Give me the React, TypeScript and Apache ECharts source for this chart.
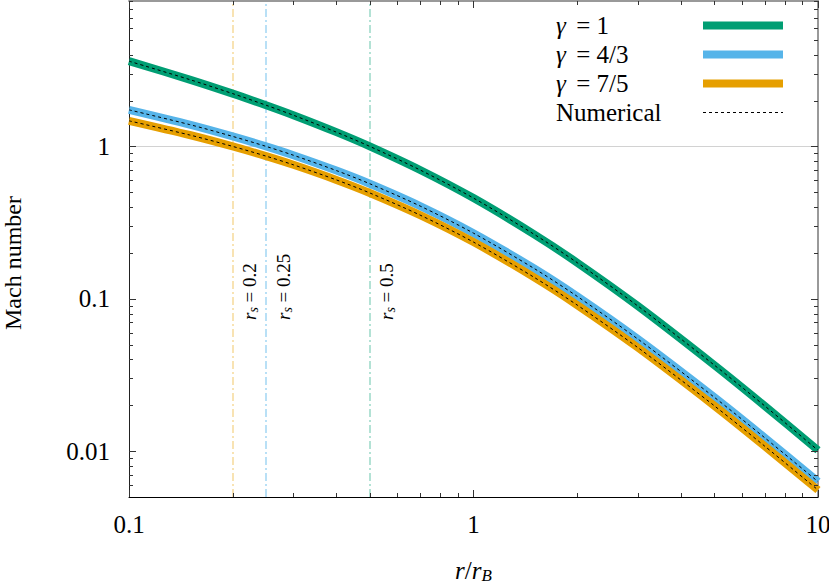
import React, { useEffect, useRef } from "react";
import * as echarts from "echarts";

// Radii (in units of r_B) at which the Mach number is read
const radii = [0.1, 0.15, 0.2, 0.25, 0.3, 0.4, 0.5, 0.7, 1, 1.5, 2, 3, 5, 7, 10];
// Mach number for each adiabatic index
const machGamma1 = [3.625, 2.745, 2.22, 1.863, 1.602, 1.24, 1.0, 0.7, 0.4578, 0.2648, 0.1725, 0.0896, 0.0367, 0.01983, 0.01013];
const machGamma43 = [1.737, 1.39, 1.163, 1.0, 0.875, 0.694, 0.5687, 0.406, 0.2695, 0.158, 0.1037, 0.0544, 0.02257, 0.01226, 0.00631];
const machGamma75 = [1.472, 1.188, 1.0, 0.863, 0.757, 0.6026, 0.4948, 0.354, 0.2355, 0.1382, 0.0909, 0.0478, 0.01985, 0.01079, 0.00556];

const seriesNames = ["γ = 1", "γ = 4/3", "γ = 7/5"];
const numericalName = "Numerical";
const sonicRadii = [0.2, 0.25, 0.5];
const sonicLabels = ["0.2", "0.25", "0.5"];

const xTickValues = [0.1, 1, 10];
const xTickLabels = ["0.1", "1", "10"];
const yTickValues = [0.01, 0.1, 1];
const yTickLabels = ["0.01", "0.1", "1"];
const xMinorTicks = [0.2, 0.3, 0.4, 0.5, 0.6, 0.7, 0.8, 0.9, 2, 3, 4, 5, 6, 7, 8, 9];
const yMinorTicks = [0.006, 0.007, 0.008, 0.009, 0.02, 0.03, 0.04, 0.05, 0.06, 0.07, 0.08, 0.09, 0.2, 0.3, 0.4, 0.5, 0.6, 0.7, 0.8, 0.9, 2, 3, 4, 5, 6, 7, 8, 9];

const COLORS = ["#009E73", "#56B4E9", "#E69F00"];
const PALE = ["rgba(0,158,115,0.4)", "rgba(86,180,233,0.55)", "rgba(230,159,0,0.4)"];
const FONT = "Liberation Serif";

function labelFor(values: number[], labels: string[], v: number) {
  for (let i = 0; i < values.length; i++) {
    if (Math.abs(Math.log10(v) - Math.log10(values[i])) < 1e-6) return labels[i];
  }
  return "";
}

export default function App() {
  const ref = useRef<HTMLDivElement>(null);
  useEffect(() => {
    if (!ref.current) return;
    const chart = echarts.init(ref.current, undefined, { renderer: "svg" });

    const curveSets = [machGamma1, machGamma43, machGamma75];
    const sonicIdx = [2, 1, 0];

    const colored: any[] = curveSets.map((vals, k) => {
      const si = sonicIdx[k];
      const mlData: any[] = [
        {
          xAxis: sonicRadii[si],
          lineStyle: { color: PALE[k], width: 1.5, type: [8, 3, 2, 3] },
          label: {
            show: true,
            position: "insideStartBottom",
            distance: [177, 6],
            formatter: "{i|r}{s|s}{t| = " + sonicLabels[si] + "}",
            rich: {
              i: { fontFamily: FONT, fontStyle: "italic", fontSize: 19, color: "#000" },
              s: { fontFamily: FONT, fontStyle: "italic", fontSize: 14, color: "#000", verticalAlign: "bottom", padding: [8, 0, 0, 0] },
              t: { fontFamily: FONT, fontSize: 19, color: "#000" },
            },
          },
        },
      ];
      if (k === 0) {
        mlData.push({ yAxis: 1, lineStyle: { color: "#d2d2d2", width: 1, type: "solid" }, label: { show: false } });
      }
      return {
        name: seriesNames[k],
        type: "line",
        data: radii.map((r, i) => [r, vals[i]]),
        smooth: 0.3,
        symbol: "none",
        lineStyle: { color: COLORS[k], width: 8 },
        itemStyle: { color: COLORS[k] },
        z: 2,
        silent: true,
        markLine: { silent: true, symbol: "none", z: 1, data: mlData },
      };
    });

    const numerical: any[] = curveSets.map((vals) => ({
      name: numericalName,
      type: "line",
      data: radii.map((r, i) => [r, vals[i]]),
      smooth: 0.3,
      symbol: "none",
      lineStyle: { color: "#000", width: 1, type: [3, 3] },
      itemStyle: { color: "#000" },
      z: 3,
      silent: true,
    }));

    const tickSeries = (axis: "x" | "y") => {
      const data: number[][] = [];
      if (axis === "x") {
        xTickValues.forEach((v) => data.push([v, 1, 0]));
        xMinorTicks.forEach((v) => data.push([v, 1, 1]));
      } else {
        yTickValues.forEach((v) => data.push([1, v, 0]));
        yMinorTicks.forEach((v) => data.push([1, v, 1]));
      }
      return {
        type: "custom",
        silent: true,
        z: 6,
        clip: false,
        data,
        renderItem: (params: any, api: any) => {
          const cs = params.coordSys;
          const len = api.value(2) === 0 ? 7 : 4;
          const st = { stroke: "#333", lineWidth: 1 };
          if (axis === "x") {
            const px = Math.round(api.coord([api.value(0), 1])[0]) + 0.5;
            const yb = cs.y + cs.height;
            return {
              type: "group",
              children: [
                { type: "line", shape: { x1: px, y1: yb, x2: px, y2: yb - len }, style: st },
                { type: "line", shape: { x1: px, y1: cs.y, x2: px, y2: cs.y + len }, style: st },
              ],
            };
          }
          const py = Math.round(api.coord([1, api.value(1)])[1]) + 0.5;
          const xr = cs.x + cs.width;
          return {
            type: "group",
            children: [
              { type: "line", shape: { x1: cs.x, y1: py, x2: cs.x + len, y2: py }, style: st },
              { type: "line", shape: { x1: xr, y1: py, x2: xr - len, y2: py }, style: st },
            ],
          };
        },
      };
    };

    const option: any = {
      animation: false,
      backgroundColor: "#fff",
      grid: { left: 129, right: 11, top: 1, bottom: 87, containLabel: false, outerBoundsMode: "none" },
      legend: {
        data: [...seriesNames, numericalName],
        orient: "vertical",
        left: 551,
        top: 8,
        align: "right",
        itemWidth: 80,
        itemHeight: 14,
        itemGap: 4,
        selectedMode: false,
        lineStyle: { width: "inherit" },
        itemStyle: { opacity: 0, borderWidth: 0 },
        formatter: (name: string) => {
          if (name.startsWith("γ")) return "{g|γ}{t|" + name.slice(1) + "}";
          return "{n|" + name + "}";
        },
        textStyle: {
          fontFamily: FONT,
          fontSize: 25,
          color: "#000",
          rich: {
            g: { fontFamily: FONT, fontStyle: "italic", fontSize: 25, color: "#000", width: 14, align: "left" },
            t: { fontFamily: FONT, fontSize: 25, color: "#000", width: 128, align: "left" },
            n: { fontFamily: FONT, fontSize: 25, color: "#000", width: 142, align: "left" },
          },
        },
      },
      xAxis: [
        {
          type: "log",
          logBase: 10,
          min: 0.1,
          max: 10,
          position: "bottom",
          axisLine: { show: true, lineStyle: { color: "#000", width: 1 } },
          axisTick: { show: false },
          minorTick: { show: false },
          splitLine: { show: false },
          axisLabel: {
            fontFamily: FONT,
            fontSize: 25,
            color: "#000",
            margin: 15,
            formatter: (v: number) => labelFor(xTickValues, xTickLabels, v),
          },
          name: "{i|r}{t|/}{i|r}{s|B}",
          nameLocation: "middle",
          nameGap: 60,
          nameTextStyle: {
            rich: {
              i: { fontFamily: FONT, fontStyle: "italic", fontSize: 25, color: "#000" },
              t: { fontFamily: FONT, fontSize: 25, color: "#000" },
              s: { fontFamily: FONT, fontStyle: "italic", fontSize: 17, color: "#000", verticalAlign: "bottom", padding: [10, 0, 0, 0] },
            },
          },
        },
        {
          type: "log",
          logBase: 10,
          min: 0.1,
          max: 10,
          position: "top",
          axisLine: { show: true, lineStyle: { color: "#999", width: 2 } },
          axisTick: { show: false },
          axisLabel: { show: false },
          splitLine: { show: false },
        },
      ],
      yAxis: [
        {
          type: "log",
          logBase: 10,
          min: 0.005,
          max: 9,
          position: "left",
          axisLine: { show: true, lineStyle: { color: "#222", width: 1 } },
          axisTick: { show: false },
          minorTick: { show: false },
          splitLine: { show: false },
          axisLabel: {
            fontFamily: FONT,
            fontSize: 25,
            color: "#000",
            margin: 19,
            formatter: (v: number) => labelFor(yTickValues, yTickLabels, v),
          },
          name: "Mach number",
          nameLocation: "middle",
          nameGap: 104,
          nameTextStyle: { fontFamily: FONT, fontSize: 24, color: "#000", padding: [0, 28, 0, 0] },
        },
        {
          type: "log",
          logBase: 10,
          min: 0.005,
          max: 9,
          position: "right",
          axisLine: { show: true, lineStyle: { color: "#999", width: 2 } },
          axisTick: { show: false },
          axisLabel: { show: false },
          splitLine: { show: false },
        },
      ],
      series: [...colored, ...numerical, tickSeries("x"), tickSeries("y")],
    };

    chart.setOption(option);
    return () => chart.dispose();
  }, []);

  return (
    <div
      ref={ref}
      style={{ position: "absolute", left: 0, top: 0, width: 829, height: 584, background: "#fff" }}
    />
  );
}
